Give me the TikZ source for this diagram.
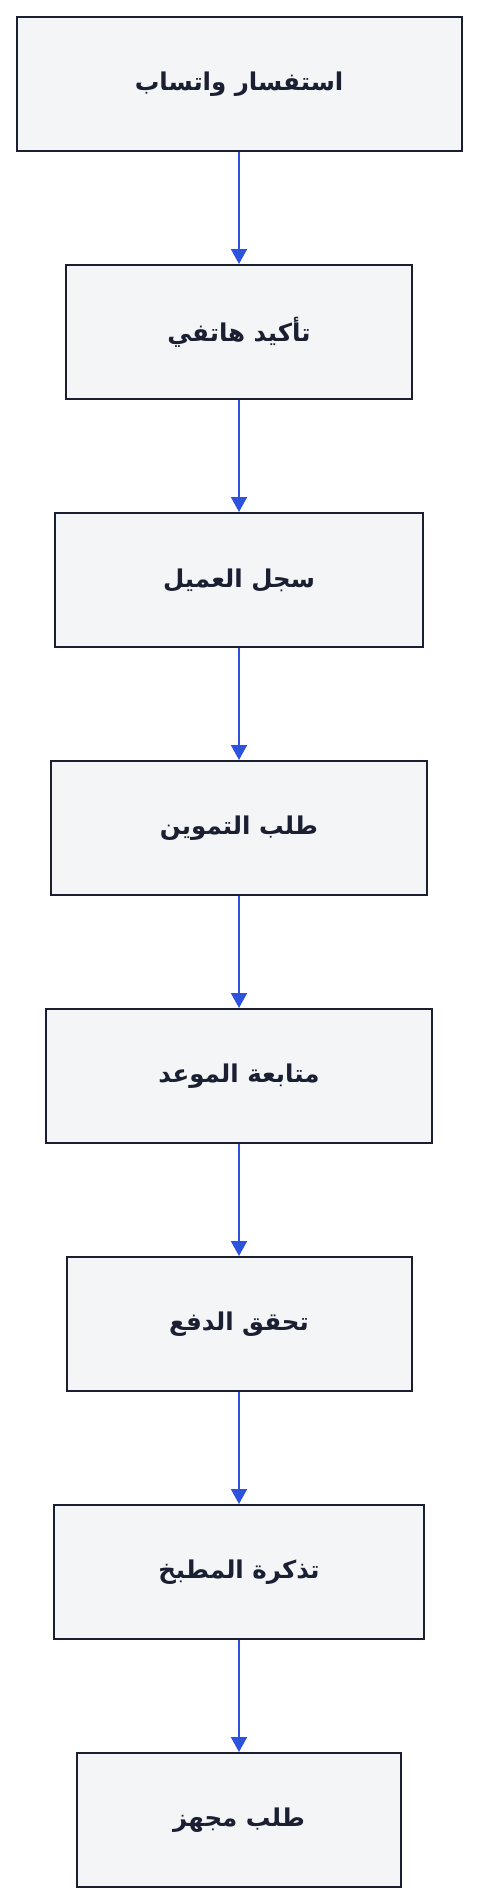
\documentclass[tikz,border=0pt]{standalone}
\usepackage{fontspec}
\usepackage{tikz}
\usetikzlibrary{positioning,arrows.meta}
\TeXXeTstate=1
\newfontfamily\arabicfont[Script=Arabic]{DejaVu Sans}
\definecolor{boxfill}{HTML}{F4F5F7}
\definecolor{boxline}{HTML}{1A2032}
\definecolor{flowblue}{HTML}{2D52DE}
\newcommand{\ar}[1]{{\arabicfont\bfseries\beginR #1\endR}}

\begin{document}
\begin{tikzpicture}[
			x = 1pt, y = -1pt,
			node distance = 112pt,
			stage/.style = {draw=boxline, fill=boxfill, line width=2pt, minimum height=134pt, inner sep=0pt, font=\fontsize{24.5}{29}\selectfont, text=boxline},
			flow/.style = {draw=flowblue, line width=2pt, -{Triangle[width=16pt,length=15pt]}}
		]

			\useasboundingbox (0,0) rectangle (478,1904);

			\node[stage, minimum width=445pt] (ask) at (239,84) {\ar{استفسار واتساب}};
			\node[stage, minimum width=346pt, below=of ask] (confirm) {\ar{تأكيد هاتفي}};
			\node[stage, minimum width=368pt, below=of confirm] (record) {\ar{سجل العميل}};
			\node[stage, minimum width=376pt, below=of record] (supply) {\ar{طلب التموين}};
			\node[stage, minimum width=386pt, below=of supply] (follow) {\ar{متابعة الموعد}};
			\node[stage, minimum width=345pt, below=of follow] (pay) {\ar{تحقق الدفع}};
			\node[stage, minimum width=370pt, below=of pay] (ticket) {\ar{تذكرة المطبخ}};
			\node[stage, minimum width=324pt, below=of ticket] (ready) {\ar{طلب مجهز}};

			\draw[flow] (ask) -- (confirm);
			\draw[flow] (confirm) -- (record);
			\draw[flow] (record) -- (supply);
			\draw[flow] (supply) -- (follow);
			\draw[flow] (follow) -- (pay);
			\draw[flow] (pay) -- (ticket);
			\draw[flow] (ticket) -- (ready);

		\end{tikzpicture}
\end{document}
